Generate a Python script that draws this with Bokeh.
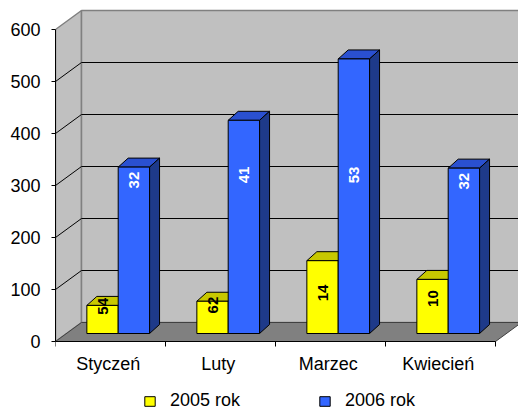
import numpy as np
from bokeh.plotting import figure
from bokeh.models import Range1d, FixedTicker, Legend, LegendItem, ColumnDataSource
from bokeh.embed import file_html
from bokeh.resources import INLINE

# ---- data ----
months = ["Styczeń", "Luty", "Marzec", "Kwiecień"]
vals_2005 = [54, 62, 140, 104]
vals_2006 = [320, 410, 528, 318]
labels_2005 = ["54", "62", "14", "10"]
labels_2006 = ["32", "41", "53", "32"]
series_names = ["2005 rok", "2006 rok"]
y_ticks = [0, 100, 200, 300, 400, 500, 600]

# ---- scale / style constants ----
PXX = 110.0    # px per category
PXY = 0.52     # px per value unit
WALL_DX = 26 / PXX
WALL_DY = 19 / PXY
BAR_DX = 10 / PXX
BAR_DY = 9 / PXY
BASE = 8 / PXY
FONT = "Liberation Sans"
YMAX = max(y_ticks)
ncat = len(months)

p = figure(width=518, height=412, x_range=Range1d(0, 463 / PXX),
           y_range=Range1d(-71 / PXY, 341 / PXY),
           output_backend="svg", toolbar_location=None,
           min_border_left=55, min_border_right=0, min_border_top=0, min_border_bottom=0)
p.xgrid.visible = False
p.ygrid.visible = False
p.outline_line_color = None
p.background_fill_color = "white"
p.border_fill_color = "white"

# ---- walls ----
p.patch([0, WALL_DX, WALL_DX, 0], [0, WALL_DY, YMAX + WALL_DY, YMAX],
        fill_color="#c0c0c0", line_color="#808080", line_width=1.5)
p.patch([WALL_DX, ncat + WALL_DX + 1, ncat + WALL_DX + 1, WALL_DX],
        [WALL_DY, WALL_DY, YMAX + WALL_DY, YMAX + WALL_DY],
        fill_color="#c0c0c0", line_color="#808080", line_width=1.5)
p.patch([0, ncat, ncat + WALL_DX, WALL_DX], [0, 0, WALL_DY, WALL_DY],
        fill_color="#808080", line_color="#404040", line_width=1)

grid_v = [v for v in y_ticks if 0 < v < YMAX]
p.multi_line([[WALL_DX, ncat + WALL_DX + 1] for v in grid_v],
             [[v + WALL_DY, v + WALL_DY] for v in grid_v], line_color="black", line_width=1)
p.multi_line([[0, WALL_DX] for v in grid_v],
             [[v, v + WALL_DY] for v in grid_v], line_color="black", line_width=1)

# ---- bars ----
def draw_bars(vals, x0off, x1off, c_front, c_top, c_side):
    idx = np.arange(len(vals))
    v = np.array(vals, dtype=float)
    l = idx + x0off
    r = idx + x1off
    t = BASE + v
    tops_x = [[a, b, b + BAR_DX, a + BAR_DX] for a, b in zip(l, r)]
    tops_y = [[h, h, h + BAR_DY, h + BAR_DY] for h in t]
    sides_x = [[b, b + BAR_DX, b + BAR_DX, b] for b in r]
    sides_y = [[BASE, BASE + BAR_DY, h + BAR_DY, h] for h in t]
    p.patches(tops_x, tops_y, fill_color=c_top, line_color="black", line_width=1)
    p.patches(sides_x, sides_y, fill_color=c_side, line_color="black", line_width=1)
    return p.quad(left=l, right=r, bottom=BASE, top=t, fill_color=c_front,
                  line_color="black", line_width=1)

Y0, Y1, B1 = 0.285, 0.57, 0.855
r_y = draw_bars(vals_2005, Y0, Y1, "#ffff00", "#c8c800", "#999900")
r_b = draw_bars(vals_2006, Y1, B1, "#3366ff", "#2a50d0", "#1e3a8a")

# ---- data labels (rotated) ----
v05 = np.array(vals_2005, dtype=float)
v06 = np.array(vals_2006, dtype=float)
idx = np.arange(ncat)
src05 = ColumnDataSource(dict(x=idx + (Y0 + Y1) / 2, y=BASE + 0.3 * v05 + 36, t=labels_2005))
src06 = ColumnDataSource(dict(x=idx + (Y1 + B1) / 2, y=BASE + np.minimum(v06, 330) - 25, t=labels_2006))
for src, col in ((src05, "black"), (src06, "white")):
    p.text(x="x", y="y", text="t", source=src, angle=np.pi / 2, text_align="center",
           text_baseline="middle", text_color=col, text_font_size="15px",
           text_font_style="bold", text_font={"value": FONT})

# ---- axes ----
ya = p.yaxis[0]
ya.ticker = FixedTicker(ticks=y_ticks)
ya.bounds = (0, YMAX)
ya.major_tick_out = 4
ya.major_tick_in = 0
ya.minor_tick_line_color = None
ya.axis_line_color = "black"
ya.major_tick_line_color = "black"
ya.major_label_standoff = 11
ya.major_label_text_font = FONT
ya.major_label_text_font_size = "18px"
ya.major_label_text_color = "black"

xa = p.xaxis[0]
xa.fixed_location = 0
centers = [i + 0.48 for i in range(ncat)]
xa.ticker = FixedTicker(ticks=centers, minor_ticks=list(range(ncat + 1)))
xa.major_label_overrides = {c: m for c, m in zip(centers, months)}
xa.bounds = (0, ncat)
xa.major_tick_line_color = None
xa.major_tick_out = 0
xa.minor_tick_out = 5
xa.minor_tick_in = 0
xa.minor_tick_line_color = "black"
xa.axis_line_color = "black"
xa.major_label_standoff = 7
xa.major_label_text_font = FONT
xa.major_label_text_font_size = "18px"
xa.major_label_text_color = "black"

# ---- legend ----
legend = Legend(items=[LegendItem(label=series_names[0], renderers=[r_y]),
                       LegendItem(label=series_names[1], renderers=[r_b])],
                location=(88, 1), orientation="horizontal",
                border_line_color=None, background_fill_alpha=0,
                padding=0, margin=0, spacing=78, glyph_width=13, glyph_height=12,
                label_standoff=14, label_text_font=FONT, label_text_font_size="18px",
                label_text_color="black")
p.add_layout(legend)

open("out.html", "w").write(file_html(p, INLINE))
